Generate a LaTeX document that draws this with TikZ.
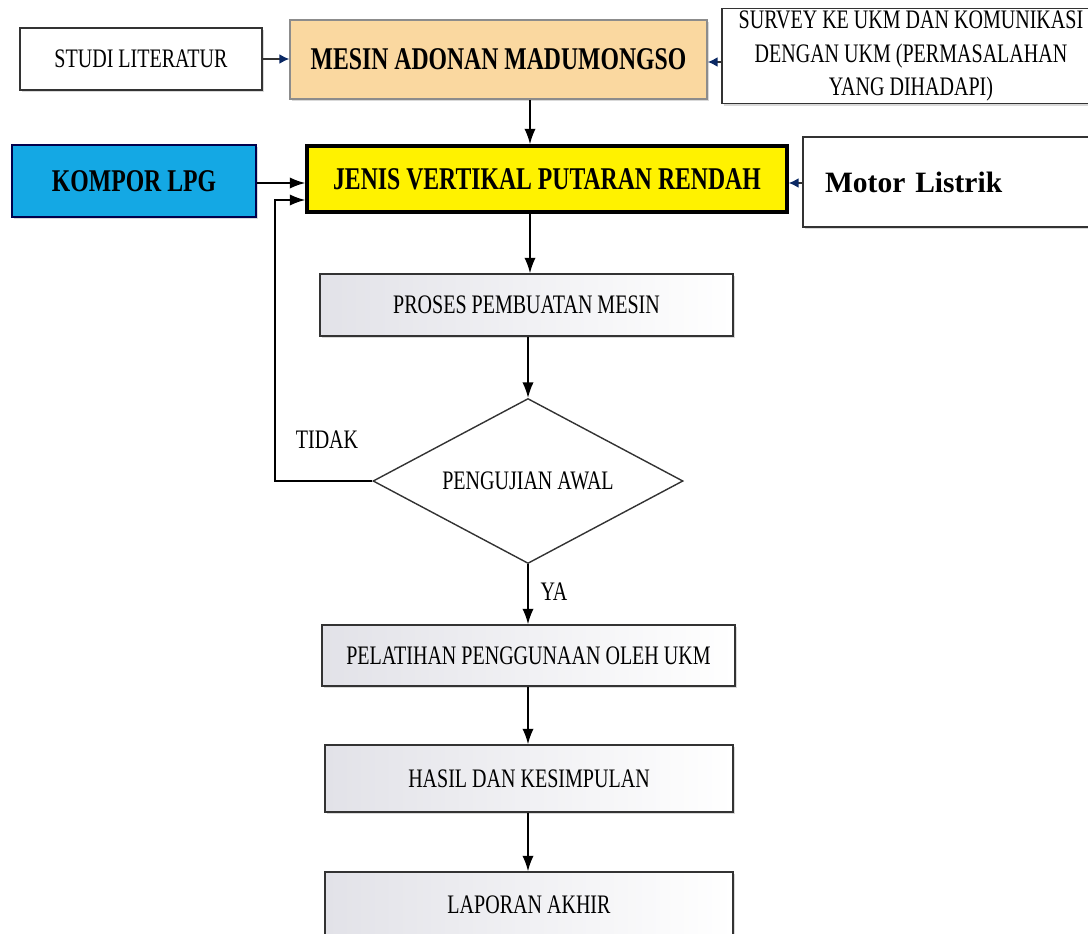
\documentclass[tikz,border=0pt]{standalone}
\usepackage{fontspec}
\setmainfont{Liberation Serif}[FakeStretch=0.75]
\newfontfamily\motorfont{Liberation Serif}
\usetikzlibrary{shapes.geometric,shadows,arrows.meta}
\definecolor{peach}{RGB}{250,216,160}
\definecolor{lpgblue}{RGB}{20,168,228}
\definecolor{tipblue}{RGB}{10,40,100}
\definecolor{lightgrey}{RGB}{226,226,232}
\tikzset{
  box/.style={draw=black!80, fill=white, line width=1.1pt, rectangle, inner sep=0pt,
    align=center, font=\fontsize{19}{23.5}\selectfont,
    drop shadow={shadow xshift=1.5pt, shadow yshift=-1.5pt, opacity=0.3}},
  bigbox/.style={box, font=\fontsize{22.5}{26}\selectfont\bfseries},
  greybox/.style={box, left color=lightgrey, right color=white},
  arr/.style={-{Latex[length=11pt,width=8pt]}, line width=1pt},
  bluearr/.style={-{Latex[length=7pt,width=7pt,color=tipblue]}, line width=1pt, draw=black!80},
}
\begin{document}
\begin{tikzpicture}
\clip (0,0) rectangle (27.2,-23.325);

\node [box, minimum width=6.05cm, minimum height=1.55cm] (v1) at (3.525,-1.475) {STUDI LITERATUR};
\node [bigbox, fill=peach, draw=black!45, minimum width=10.425cm, minimum height=1.975cm] (v2) at (12.4625,-1.4875) {MESIN ADONAN MADUMONGSO};
\node [box, minimum width=9.45cm, minimum height=2.375cm] (v3) at (22.775,-1.4) {SURVEY KE UKM DAN KOMUNIKASI\\DENGAN UKM (PERMASALAHAN\\YANG DIHADAPI)};
\node [bigbox, fill=lpgblue, draw=blue!30!black, minimum width=6.1cm, minimum height=1.8cm] (v4) at (3.35,-4.525) {KOMPOR LPG};
\node [bigbox, fill=yellow, draw=black, line width=2.5pt, minimum width=12cm, minimum height=1.65cm] (v5) at (13.675,-4.475) {JENIS VERTIKAL PUTARAN RENDAH};
\node [box, minimum width=7.425cm, minimum height=2.25cm, text width=6.325cm, inner xsep=0.55cm, align=left, font=\motorfont\fontsize{21}{25}\selectfont\bfseries] (v6) at (23.79,-4.55) {Motor Listrik};
\node [greybox, minimum width=10.325cm, minimum height=1.55cm] (v7) at (13.1625,-7.625) {PROSES PEMBUATAN MESIN};
\node [diamond, draw=black!80, line width=1pt, inner sep=0pt, aspect=1.88, minimum width=7.75cm, minimum height=4.125cm, font=\fontsize{19}{23}\selectfont] (v8) at (13.2,-12.025) {PENGUJIAN AWAL};
\node [greybox, minimum width=10.325cm, minimum height=1.525cm] (v9) at (13.2125,-16.3875) {PELATIHAN PENGGUNAAN OLEH UKM};
\node [greybox, minimum width=10.2cm, minimum height=1.675cm] (v10) at (13.225,-19.4625) {HASIL DAN KESIMPULAN};
\node [greybox, minimum width=10.2cm, minimum height=1.65cm] (v11) at (13.225,-22.625) {LAPORAN AKHIR};

\node [font=\fontsize{19}{22}\selectfont] (v12) at (8.175,-11) {TIDAK};
\node [font=\fontsize{19}{22}\selectfont] (v13) at (13.85,-14.8) {YA};
\coordinate (v14) at (6.875,-5.0);

\draw [bluearr] (v1.east) -- (v1.east -| v2.west);
\draw [bluearr] (v3.west |- 0,-1.55) -- (v2.east |- 0,-1.55);
\draw [bluearr] (v6.west |- 0,-4.575) -- (v5.east |- 0,-4.575);
\draw [arr] (v2.south -| 13.25,0) -- (v5.north -| 13.25,0);
\draw [arr] (v4.east |- 0,-4.575) -- (v5.west |- 0,-4.575);
\draw [arr] (v8.west) -| (v14) -- (v14 -| v5.west);
\draw [arr] (v5.south -| 13.25,0) -- (v7.north -| 13.25,0);
\draw [arr] (v7.south -| v8) -- (v8.north);
\draw [arr] (v8.south) -- (v9.north -| v8);
\draw [arr] (v9.south -| v8) -- (v10.north -| v8);
\draw [arr] (v10.south -| v8) -- (v11.north -| v8);
\end{tikzpicture}
\end{document}
